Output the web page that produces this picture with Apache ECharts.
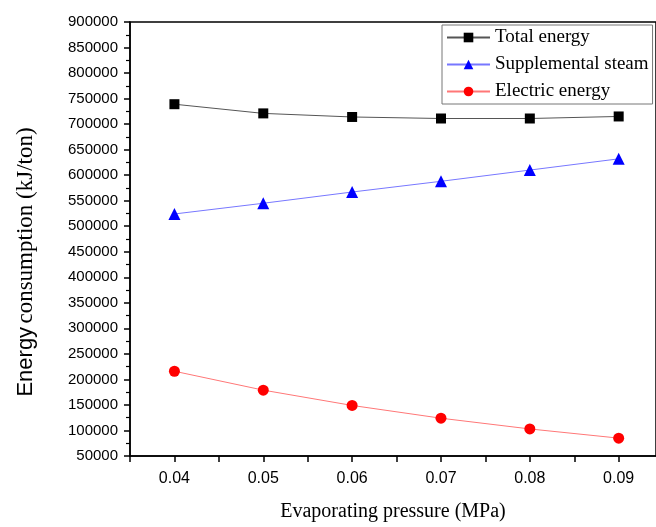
<!DOCTYPE html>
<html>
<head>
<meta charset="utf-8">
<script src="https://cdn.jsdelivr.net/npm/echarts@6/dist/echarts.min.js"></script>
<style>
  html, body { margin: 0; padding: 0; background: #fff; }
  #chart { width: 656px; height: 527px; }
</style>
</head>
<body>
<div id="chart"></div>
<script>
  // evaporating pressure (MPa)
  var pressure = [0.04, 0.05, 0.06, 0.07, 0.08, 0.09];
  // energy consumption (kJ/ton)
  var totalEnergy = [739000, 721000, 714000, 711000, 711000, 715000];
  var supplementalSteam = [524000, 545000, 567000, 588000, 610000, 632000];
  var electricEnergy = [216000, 179000, 149000, 124000, 103000, 85000];

  function pairs(ys) {
    return pressure.map(function (x, i) { return [x, ys[i]]; });
  }

  var serif = 'Liberation Serif, Times New Roman, serif';
  var sans = 'Liberation Sans, Arial, sans-serif';

  var myChart = echarts.init(document.getElementById('chart'));
  var option = {
    animation: false,
    grid: {
      left: 130,
      top: 22,
      right: 0,
      bottom: 71,
      show: true,
      borderColor: '#000',
      borderWidth: 1.5
    },
    legend: {
      left: 442,
      top: 25,
      width: 205,
      orient: 'vertical',
      itemWidth: 43,
      itemHeight: 12,
      itemGap: 8,
      padding: [3, 4, 3, 4],
      borderColor: '#777',
      borderWidth: 1,
      backgroundColor: '#fff',
      textStyle: { fontFamily: serif, fontSize: 19, color: '#000' },
      data: ['Total energy', 'Supplemental steam', 'Electric energy']
    },
    xAxis: {
      type: 'value',
      min: 0.035,
      max: 0.0942,
      interval: 0.005,
      name: 'Evaporating pressure (MPa)',
      nameLocation: 'middle',
      nameGap: 46,
      nameTextStyle: { fontFamily: serif, fontSize: 20, color: '#000' },
      axisLine: { lineStyle: { color: '#000', width: 1.5 } },
      axisTick: { inside: false, length: 6, lineStyle: { color: '#000', width: 1.5 } },
      splitLine: { show: false },
      axisLabel: {
        fontFamily: sans,
        fontSize: 16,
        color: '#000',
        margin: 15,
        showMaxLabel: false,
        formatter: function (v) {
          return Math.round(v * 1000) % 10 === 0 ? v.toFixed(2) : '';
        }
      }
    },
    yAxis: {
      type: 'value',
      min: 50000,
      max: 900000,
      interval: 50000,
      name: '{a|Energy} {b|consumption (kJ/ton)}',
      nameLocation: 'middle',
      nameGap: 93,
      nameTextStyle: {
        color: '#000',
        padding: [0, 46, 0, 0],
        rich: {
          a: { fontFamily: sans, fontSize: 22, color: '#000' },
          b: { fontFamily: serif, fontSize: 23, color: '#000' }
        }
      },
      axisLine: { show: true, lineStyle: { color: '#000', width: 1.5 } },
      axisTick: { inside: false, length: 6, lineStyle: { color: '#000', width: 1.5 } },
      minorTick: { show: true, splitNumber: 2, length: 4, lineStyle: { color: '#000', width: 1.2 } },
      splitLine: { show: false },
      axisLabel: {
        fontFamily: sans,
        fontSize: 15,
        color: '#000',
        margin: 12,
        formatter: function (v) { return String(v); }
      }
    },
    series: [
      {
        name: 'Total energy',
        type: 'line',
        data: pairs(totalEnergy),
        symbol: 'rect',
        symbolSize: 10,
        itemStyle: { color: '#000' },
        lineStyle: { color: '#555', width: 1 }
      },
      {
        name: 'Supplemental steam',
        type: 'line',
        data: pairs(supplementalSteam),
        symbol: 'triangle',
        symbolSize: 12,
        itemStyle: { color: '#0000ff' },
        lineStyle: { color: '#7777ff', width: 1 }
      },
      {
        name: 'Electric energy',
        type: 'line',
        data: pairs(electricEnergy),
        symbol: 'circle',
        symbolSize: 11,
        itemStyle: { color: '#ff0000' },
        lineStyle: { color: '#ff7777', width: 1 }
      }
    ]
  };
  myChart.setOption(option);
</script>
</body>
</html>
